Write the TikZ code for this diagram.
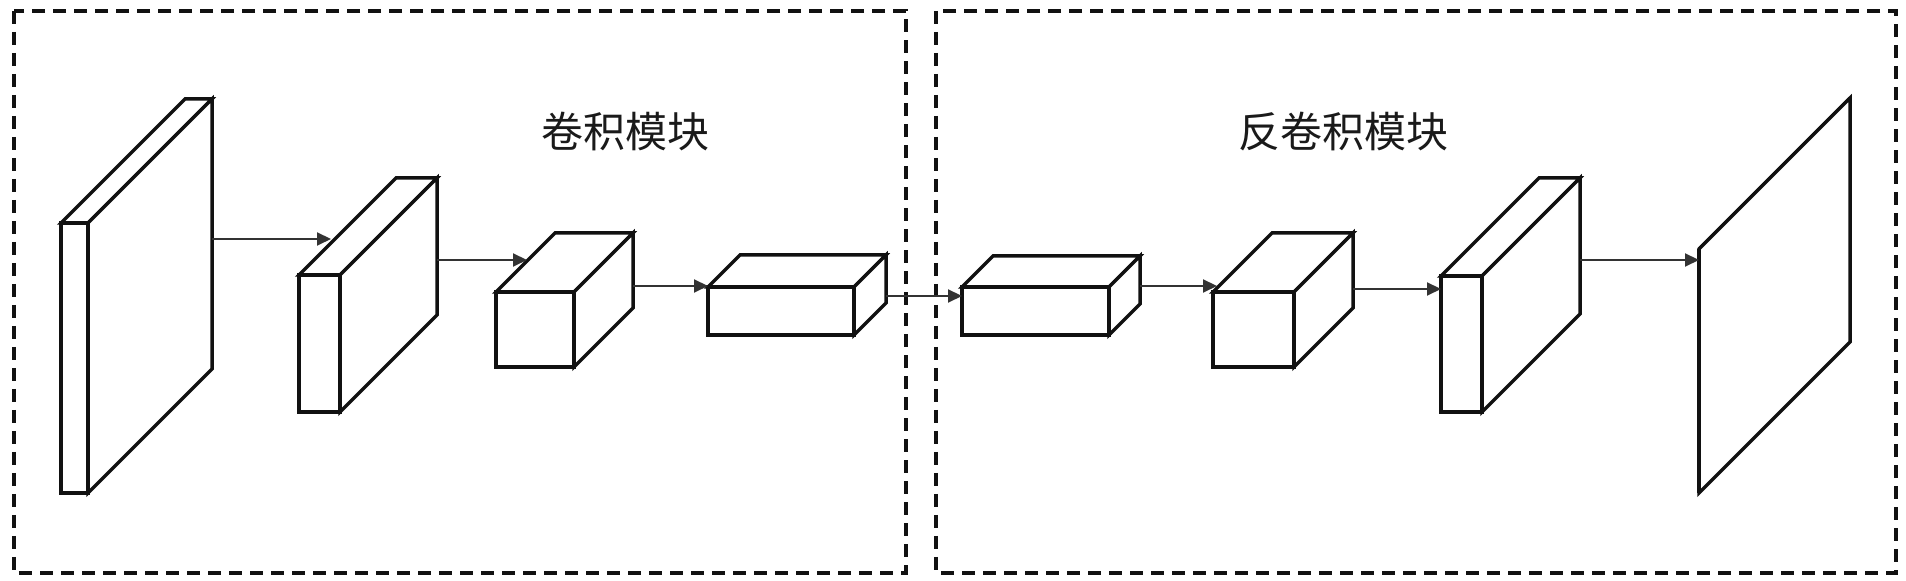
\documentclass[tikz,border=0pt]{standalone}
\usepackage{fontspec}
\newfontfamily\cjk{Noto Sans CJK SC}
\usepackage{xcolor}
\usetikzlibrary{arrows.meta}
\definecolor{Edge}{HTML}{111111}
\definecolor{Wire}{HTML}{333333}
\definecolor{Caption}{HTML}{1A1A1A}

\begin{document}
\begin{tikzpicture}[x=0.5pt,y=-0.5pt,
  face/.style={draw=Edge,fill=white,line width=1.75pt,line join=miter},
  frame/.style={draw=Edge,line width=2pt,dash pattern=on 6.5pt off 4pt},
  link/.style={draw=Wire,line width=1pt,-{Triangle[length=7pt,width=6.5pt]}},
  caption/.style={font=\cjk\fontsize{21pt}{24pt}\selectfont,text=Caption}]
\useasboundingbox (0,0) rectangle (1906,581);
\fill[white] (0,0) rectangle (1906,581);
% the two dashed modules
\draw[frame] (14,11) rectangle (906,573);
\draw[frame] (936,11) rectangle (1896,573);
\node[caption] (convtitle) at (625,132) {卷积模块};
\node[caption] (deconvtitle) at (1343,132) {反卷积模块};
% feature maps: name/left/top/width/height/depth (45 degree)
\foreach \n/\x/\y/\w/\h/\d in {1/61/223/27/270/124, 2/299/275/41/137/97, 3/496/292/78/75/59,
  4/708/287/146/48/32, 5/962/287/147/48/31, 6/1213/292/81/75/59, 7/1441/276/41/136/98,
  8/1699/249/0/244/151}{
  \draw[face] (\x,\y) -- ++(\d,-\d) -- ++(\w,0) -- ++(-\d,\d) -- cycle;
  \draw[face] (\x+\w,\y) -- ++(\d,-\d) -- ++(0,\h) -- ++(-\d,\d) -- cycle;
  \draw[face] (\x,\y) rectangle ++(\w,\h);
  \coordinate (back\n) at (\x+\w+\d,\y-\d);
}
% connectors: from/to/tip x/tip y
\foreach \i/\j/\x/\y in {1/2/331/239, 2/3/527/260, 3/4/708/286, 4/5/962/296,
  5/6/1217/286, 6/7/1441/289, 7/8/1699/260}{
  \coordinate (in\j) at (\x,\y);
  \draw[link] (in\j -| back\i) -- (in\j);
}
\end{tikzpicture}
\end{document}
